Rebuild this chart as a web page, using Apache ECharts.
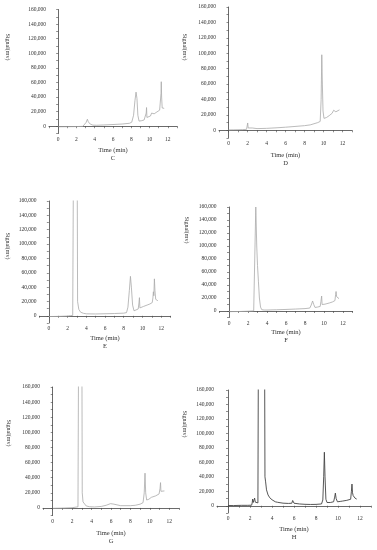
<!DOCTYPE html>
<html>
<head>
<meta charset="utf-8">
<script src="https://cdn.jsdelivr.net/npm/echarts@6/dist/echarts.min.js"></script>
<style>html,body{margin:0;padding:0;background:#fff;}#c{width:377px;height:550px;}</style>
</head>
<body>
<div id="c"></div>
<script>
// ---- data (time in min, signal in mV) ----
const panelLetters = ['C', 'D', 'E', 'F', 'G', 'H'];
const xTickLabels = [0, 2, 4, 6, 8, 10, 12];
const yTickLabels = [0, 20000, 40000, 60000, 80000, 100000, 120000, 140000, 160000];
const xAxisTitle = 'Time (min)';
const yAxisTitle = 'Signal(mv)';

const traceC = [[0,-800],[1,-700],[2,-500],[2.7,-200],[2.85,1500],[3.05,5000],[3.2,9600],[3.3,6000],[3.5,3000],[3.8,1500],[4.2,1300],[5,1700],[6,2300],[7,3000],[7.8,4000],[8.05,5500],[8.25,15000],[8.4,35000],[8.52,46700],[8.62,38000],[8.72,15000],[8.85,7000],[9.1,7500],[9.4,8500],[9.6,10000],[9.63,18000],[9.67,25600],[9.71,12000],[9.85,12000],[10.1,14000],[10.22,18000],[10.3,16000],[10.5,17000],[10.8,19500],[11.1,22000],[11.2,24000],[11.25,45000],[11.28,61000],[11.32,40000],[11.38,25000],[11.45,25500],[11.6,24500]];
const traceD = [[0,500],[0.5,600],[1,700],[1.5,900],[1.9,1200],[1.97,2000],[2.02,9500],[2.07,3000],[2.2,3800],[2.5,3000],[3,2200],[4,2500],[5,3200],[6,4000],[7,5000],[8,6000],[8.6,7000],[9,8500],[9.4,10000],[9.65,11500],[9.75,40000],[9.82,98000],[9.88,60000],[9.95,25000],[10.05,15500],[10.3,16500],[10.6,19000],[10.9,22000],[11.0,24500],[11.07,26000],[11.15,23500],[11.3,24000],[11.5,25500],[11.68,26500]];
const traceE = [[0,-1000],[1,-800],[2,-300],[2.3,300],[2.45,1200],[2.55,500],[2.7,1500],[2.88,900000],[3.07,20000],[3.2,9000],[3.4,5000],[3.7,3500],[4,2800],[5,2600],[6,2900],[7,3200],[8,3700],[8.3,4500],[8.45,12000],[8.6,35000],[8.72,55000],[8.82,40000],[8.95,15000],[9.1,7000],[9.3,7500],[9.55,9500],[9.63,18000],[9.68,25300],[9.73,11000],[9.9,10500],[10.1,13000],[10.18,15500],[10.25,13500],[10.5,15000],[10.8,16500],[11.05,18500],[11.12,25000],[11.17,33500],[11.22,28000],[11.28,51500],[11.34,35000],[11.42,23000],[11.65,21000]];
const traceF = [[0,-1000],[1,-800],[2,-300],[2.6,200],[2.7,2000],[2.82,160000],[2.92,100000],[3.0,70000],[3.1,45000],[3.2,20000],[3.32,6000],[3.45,2000],[3.7,1500],[4,1500],[5,1900],[6,2400],[7,3000],[8,3700],[8.5,4500],[8.65,9000],[8.8,15400],[8.92,10000],[9.05,5500],[9.3,6000],[9.6,7000],[9.68,15000],[9.75,23000],[9.8,10000],[9.9,8000],[10.1,10500],[10.2,12000],[10.3,10500],[10.6,12500],[10.9,14000],[11.15,16000],[11.22,25000],[11.27,30000],[11.33,22000],[11.4,25000],[11.48,20500],[11.58,19000]];
const traceG = [[0,-500],[1,-200],[2,300],[2.6,1500],[2.7,3000],[2.87,900000],[3.04,20000],[3.12,8000],[3.2,6000],[3.45,2600],[3.8,1600],[4.3,1300],[5,2000],[5.5,3500],[5.95,5700],[6.3,5000],[7,3000],[8,3000],[8.5,3500],[9,5000],[9.3,7000],[9.42,20000],[9.5,46000],[9.57,20000],[9.67,10500],[9.9,11500],[10.15,14000],[10.22,15500],[10.3,14000],[10.6,16000],[10.95,18500],[11.05,26000],[11.1,33500],[11.14,22000],[11.3,21500],[11.5,22500]];
const traceH = [[0,400],[0.5,300],[1,500],[1.25,600],[1.33,2800],[1.4,700],[1.8,600],[2.15,800],[2.2,4000],[2.24,9200],[2.29,4500],[2.36,6000],[2.42,10600],[2.48,5000],[2.6,3000],[2.72,4000],[3.05,1600000],[3.36,40000],[3.42,33000],[3.5,22000],[3.64,15000],[3.8,11000],[4.0,8300],[4.3,5500],[4.5,4800],[4.56,5800],[4.65,4600],[5,3600],[5.5,3200],[5.8,3500],[5.88,7300],[6.0,3500],[6.5,2500],[7,2000],[7.5,1800],[8,1900],[8.5,2500],[8.62,8000],[8.7,40000],[8.76,74000],[8.82,40000],[8.9,9000],[9.0,4500],[9.3,4500],[9.6,5500],[9.7,12000],[9.76,17500],[9.83,10000],[9.95,5500],[10.2,6000],[10.32,8300],[10.42,6500],[10.8,7500],[11.15,9000],[11.22,20000],[11.27,30000],[11.32,18000],[11.38,14000],[11.45,12500],[11.55,10500],[11.7,9200]];
const traces = [traceC, traceD, traceE, traceF, traceG, traceH];

// ---- layout ----
const layout = [
  {left: 49,  top: 9.5, width: 128, height: 124, nameGap: 13, yl: [8, 47]},
  {left: 219, top: 7,   width: 133, height: 131, nameGap: 13, yl: [185, 47]},
  {left: 39.5,top: 201, width: 131, height: 122, nameGap: 11, yl: [8, 246]},
  {left: 219.5,top: 207,width: 133, height: 110.5,nameGap: 11, yl: [187, 230]},
  {left: 43,  top: 387, width: 136, height: 128.5,nameGap: 14, yl: [9, 433]},
  {left: 217, top: 390, width: 154, height: 123, nameGap: 12, yl: [185, 424]}
];
const lineColors = ['#aaaaaa','#aaaaaa','#aaaaaa','#aaaaaa','#aaaaaa','#444444'];
const FONT = 'Liberation Serif';
const fmtNum = v => String(v).replace(/\B(?=(\d{3})+(?!\d))/g, ',');

const grid = [], xAxis = [], yAxis = [], series = [], graphic = [];
layout.forEach((L, i) => {
  grid.push({left: L.left, top: L.top, width: L.width, height: L.height, containLabel: false});
  xAxis.push({
    type: 'value', gridIndex: i, min: -1, max: 13, interval: 1,
    name: xAxisTitle + '\n' + panelLetters[i], nameLocation: 'middle', nameGap: L.nameGap,
    nameTextStyle: {fontFamily: FONT, fontSize: 6.5, color: '#333', lineHeight: 8},
    axisLine: {lineStyle: {color: '#444', width: 0.8}},
    axisTick: {length: 2, lineStyle: {color: '#444', width: 0.6}},
    splitLine: {show: false},
    axisLabel: {interval: 0, margin: 3, fontFamily: FONT, fontSize: 5.5, color: '#333',
      showMinLabel: true, showMaxLabel: true,
      formatter: v => xTickLabels.indexOf(Math.round(v)) >= 0 && Math.abs(v - Math.round(v)) < 1e-6 ? String(Math.round(v)) : ''}
  });
  yAxis.push({
    type: 'value', gridIndex: i, min: -10000, max: 160000, interval: 10000,
    axisLine: {show: true, lineStyle: {color: '#444', width: 0.8}},
    axisTick: {show: true, length: 2, lineStyle: {color: '#444', width: 0.6}},
    splitLine: {show: false},
    axisLabel: {interval: 0, margin: 3, fontFamily: FONT, fontSize: 5.5, color: '#333',
      showMinLabel: true, showMaxLabel: true,
      formatter: v => yTickLabels.indexOf(v) >= 0 ? fmtNum(v) : ''}
  });
  series.push({
    type: 'line', xAxisIndex: i, yAxisIndex: i, data: traces[i], showSymbol: false, symbol: 'none',
    clip: true, lineStyle: {color: lineColors[i], width: i === 5 ? 0.9 : 0.8}, animation: false
  });
  graphic.push({
    type: 'text', x: L.yl[0], y: L.yl[1], rotation: -Math.PI / 2,
    style: {text: yAxisTitle, fontFamily: FONT, fontSize: 6, fill: '#333', align: 'center', verticalAlign: 'middle'}
  });
});

const chart = echarts.init(document.getElementById('c'), null, {renderer: 'canvas'});
chart.setOption({backgroundColor: '#fff', animation: false, grid, xAxis, yAxis, series, graphic});
</script>
</body>
</html>
